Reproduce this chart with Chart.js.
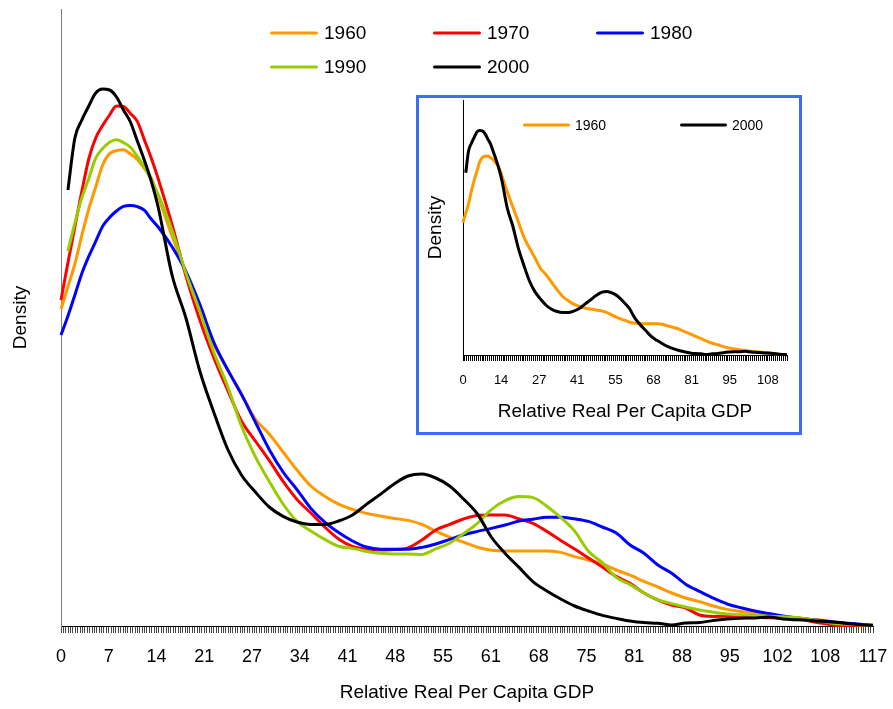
<!DOCTYPE html>
<html>
<head>
<meta charset="utf-8">
<title>Density of Relative Real Per Capita GDP</title>
<script src="https://cdn.jsdelivr.net/npm/chart.js@4.4.1/dist/chart.umd.min.js"></script>
<style>
  html, body { margin: 0; padding: 0; background: #ffffff; }
  #wrap { position: relative; width: 893px; height: 709px; overflow: hidden; }
  #mainChart { position: absolute; left: 0; top: 0; }
  #inset {
    position: absolute; left: 416px; top: 95px;
    width: 380px; height: 334px;
    border: 3px solid #3d6ef2; background: #ffffff;
  }
  #insetChart { position: absolute; left: 0; top: 0; }
</style>
</head>
<body>
<div id="wrap">
  <canvas id="mainChart" width="893" height="709"></canvas>
  <div id="inset"><canvas id="insetChart" width="380" height="334"></canvas></div>
</div>
<script>
// x positions (relative real per capita GDP) shared by all series
const xValues = [
  0, 1, 2, 3, 4, 5, 6, 7, 8, 9, 10, 11, 12, 13, 14,
  16, 18, 20, 22, 24, 26, 28, 30, 32, 34,
  36, 38, 40, 42, 44, 46, 48, 50, 52, 54,
  56, 58, 60, 62, 64, 66, 68, 70, 72, 74,
  76, 78, 80, 82, 84, 86, 88, 90, 92, 94,
  96, 98, 100, 102, 104, 106, 108, 110, 112, 114,
  116, 117,
];

const xTickLabels = ['0', '7', '14', '21', '27', '34', '41', '48', '55', '61',
  '68', '75', '81', '88', '95', '102', '108', '117'];
const insetTickLabels = ['0', '14', '27', '41', '55', '68', '81', '95', '108'];

const years = ['1960', '1970', '1980', '1990', '2000'];
const colors = ['#FF9900', '#FF0000', '#0000FF', '#99CC00', '#000000'];

// density values
const d1960 = [
  15.85, 16.97, 18.1, 19.53, 20.85, 21.95, 23.05, 23.62, 23.77, 23.81, 23.6, 23.33, 22.88, 22.41, 21.48,
  19.5, 17.7, 15.9, 14.1, 12.8, 11.6, 10.35, 9.6, 8.7, 7.8,
  7.0, 6.49, 6.09, 5.83, 5.63, 5.5, 5.38, 5.28, 5.08, 4.74,
  4.44, 4.19, 3.94, 3.79, 3.75, 3.75, 3.75, 3.75, 3.68, 3.47,
  3.3, 3.1, 2.8, 2.54, 2.23, 1.95, 1.65, 1.4, 1.22, 1.0,
  0.83, 0.73, 0.64, 0.52, 0.45, 0.41, 0.33, 0.28, 0.19, 0.11,
  0.05, 0.05,
];
const d1970 = [
  16.3, 18.16, 19.97, 21.73, 23.35, 24.4, 25.03, 25.55, 26.0, 25.98, 25.63, 25.23, 24.32, 23.4, 22.37,
  20.07, 17.5, 15.3, 13.43, 11.8, 10.25, 9.25, 8.28, 7.23, 6.33,
  5.65, 4.95, 4.35, 3.98, 3.85, 3.8, 3.82, 3.91, 4.3, 4.8,
  5.08, 5.35, 5.53, 5.55, 5.55, 5.35, 5.13, 4.73, 4.28, 3.85,
  3.4, 2.95, 2.48, 2.13, 1.65, 1.3, 1.05, 0.9, 0.55, 0.48,
  0.49, 0.47, 0.45, 0.41, 0.4, 0.38, 0.24, 0.12, 0.03, 0.03,
  0.03, 0.03,
];
const d1980 = [
  14.55, 15.5, 16.55, 17.63, 18.48, 19.23, 19.99, 20.43, 20.75, 20.98, 21.03, 20.97, 20.79, 20.35, 19.95,
  18.96, 17.72, 16.08, 14.2, 12.83, 11.58, 10.2, 8.83, 7.7, 6.82,
  5.88, 5.19, 4.67, 4.25, 3.95, 3.84, 3.84, 3.84, 3.93, 4.1,
  4.33, 4.56, 4.73, 4.88, 5.05, 5.25, 5.34, 5.44, 5.44, 5.36,
  5.23, 4.95, 4.65, 4.05, 3.64, 3.05, 2.64, 2.09, 1.73, 1.39,
  1.1, 0.91, 0.75, 0.62, 0.5, 0.4, 0.32, 0.25, 0.18, 0.12,
  0.06, 0.03,
];
const d1990 = [
  null, 18.75, 20.15, 21.41, 22.38, 23.39, 23.87, 24.19, 24.31, 24.17, 23.94, 23.48, 22.95, 22.3, 21.58,
  19.78, 17.64, 15.73, 13.7, 12.0, 10.0, 8.47, 7.23, 6.1, 5.23,
  4.75, 4.33, 3.99, 3.88, 3.73, 3.64, 3.6, 3.6, 3.58, 3.86,
  4.14, 4.62, 5.13, 5.82, 6.27, 6.47, 6.42, 5.99, 5.42, 4.75,
  3.74, 3.17, 2.43, 2.07, 1.65, 1.31, 1.12, 0.95, 0.8, 0.69,
  0.6, 0.56, 0.53, 0.49, 0.46, 0.42, 0.32, 0.21, 0.11, 0.08,
  0.05, 0.05,
];
const d2000 = [
  null, 21.8, 24.4, 25.3, 26.0, 26.65, 26.85, 26.8, 26.45, 25.8, 25.2, 24.25, 23.3, 22.25, 20.95,
  17.55, 15.4, 12.75, 10.7, 8.85, 7.55, 6.7, 5.95, 5.48, 5.2,
  5.08, 5.08, 5.25, 5.55, 6.08, 6.58, 7.1, 7.5, 7.6, 7.4,
  7.0, 6.35, 5.6, 4.45, 3.63, 2.93, 2.22, 1.75, 1.35, 1.0,
  0.75, 0.53, 0.38, 0.25, 0.17, 0.14, 0.05, 0.15, 0.17, 0.28,
  0.35, 0.39, 0.4, 0.45, 0.35, 0.31, 0.28, 0.23, 0.17, 0.1,
  0.05, 0.03,
];

const seriesValues = [d1960, d1970, d1980, d1990, d2000];

Chart.defaults.font.family = 'Arial, "Liberation Sans", sans-serif';
Chart.defaults.color = '#000000';

function makeDataset(i) {
  return {
    label: years[i],
    data: xValues.map((x, k) => ({ x: x, y: seriesValues[i][k] })),
    borderColor: colors[i],
    backgroundColor: colors[i],
    borderWidth: 3,
    pointRadius: 0,
    cubicInterpolationMode: 'monotone',
    borderJoinStyle: 'round',
    clip: 4,
    order: years.length - 1 - i, // later years drawn on top
  };
}

// many small tick marks along the x axis, labels on every 20th one
function denseTicks(count) {
  return function (axis) {
    const ticks = [];
    for (let i = 0; i <= count; i++) {
      ticks.push({ value: (axis.max * i) / count });
    }
    axis.ticks = ticks;
  };
}

// fixed axis box sizes, no extra room for the end labels
function fixHeight(h) {
  return function (axis) {
    axis.height = h;
    axis.paddingLeft = 0;
    axis.paddingRight = 0;
  };
}
function fixWidth(w) {
  return function (axis) {
    axis.width = w;
    axis.paddingTop = 0;
    axis.paddingBottom = 0;
  };
}

// legend drawn as short line + year, in a fixed grid
const lineLegend = {
  id: 'lineLegend',
  afterDraw(chart, args, opts) {
    const ctx = chart.ctx;
    ctx.save();
    ctx.font = opts.font;
    ctx.textBaseline = 'middle';
    ctx.textAlign = 'left';
    chart.data.datasets.forEach((ds, i) => {
      const col = i % opts.perRow;
      const row = Math.floor(i / opts.perRow);
      const x = opts.x + col * opts.colGap;
      const y = opts.y + row * opts.rowGap;
      ctx.strokeStyle = ds.borderColor;
      ctx.lineWidth = 3;
      ctx.lineCap = 'round';
      ctx.beginPath();
      ctx.moveTo(x + 1.5, y);
      ctx.lineTo(x + opts.lineLen - 1.5, y);
      ctx.stroke();
      ctx.fillStyle = '#000000';
      ctx.fillText(ds.label, x + opts.lineLen + opts.textGap, y + 1);
    });
    ctx.restore();
  },
};

new Chart(document.getElementById('mainChart').getContext('2d'), {
  type: 'line',
  data: {
    datasets: years.map((y, i) => makeDataset(i)),
  },
  options: {
    responsive: false,
    animation: false,
    devicePixelRatio: 1,
    layout: { padding: { top: 9, right: 20, left: 0, bottom: 0 } },
    scales: {
      x: {
        type: 'linear',
        min: 0,
        max: 117,
        afterBuildTicks: denseTicks(340),
        afterFit: fixHeight(83),
        ticks: {
          autoSkip: false,
          maxRotation: 0,
          minRotation: 0,
          padding: 13,
          font: { size: 18 },
          callback: (value, index) => (index % 20 === 0 ? xTickLabels[index / 20] : ''),
        },
        grid: {
          display: true,
          drawOnChartArea: false,
          drawTicks: true,
          tickLength: 7,
          color: '#444444',
          lineWidth: 1,
        },
        border: { display: true, color: '#000000', width: 1 },
        title: {
          display: true,
          text: 'Relative Real Per Capita GDP',
          font: { size: 19 },
          padding: { top: 0, bottom: 5 },
        },
      },
      y: {
        min: 0,
        max: 30.85,
        afterFit: fixWidth(61),
        ticks: { display: false },
        grid: { display: false },
        border: { display: true, color: '#808080', width: 1 },
        title: {
          display: true,
          text: 'Density',
          font: { size: 19 },
          padding: { top: 9, bottom: 0 },
        },
      },
    },
    plugins: {
      legend: { display: false },
      tooltip: { enabled: false },
      lineLegend: {
        x: 270, y: 33, perRow: 3, colGap: 163, rowGap: 34,
        lineLen: 48, textGap: 6,
        font: '19px Arial, "Liberation Sans", sans-serif',
      },
    },
  },
  plugins: [lineLegend],
});

// inset: 1960 against 2000
const insetSeries = [0, 4];

new Chart(document.getElementById('insetChart').getContext('2d'), {
  type: 'line',
  data: {
    datasets: insetSeries.map((i) => makeDataset(i)),
  },
  options: {
    responsive: false,
    animation: false,
    devicePixelRatio: 1,
    layout: { padding: { top: 2, right: 12, left: 0, bottom: 0 } },
    scales: {
      x: {
        type: 'linear',
        min: 0,
        max: 117,
        afterBuildTicks: denseTicks(170),
        afterFit: fixHeight(77),
        ticks: {
          autoSkip: false,
          maxRotation: 0,
          minRotation: 0,
          padding: 12,
          font: { size: 13 },
          callback: (value, index) => (index % 20 === 0 ? insetTickLabels[index / 20] : ''),
        },
        grid: {
          display: true,
          drawOnChartArea: false,
          drawTicks: true,
          tickLength: 6,
          color: '#000000',
          lineWidth: 1,
        },
        border: { display: true, color: '#000000', width: 1 },
        title: {
          display: true,
          text: 'Relative Real Per Capita GDP',
          font: { size: 19 },
          padding: { top: 0, bottom: 9 },
        },
      },
      y: {
        min: 0,
        max: 30.5,
        afterFit: fixWidth(44),
        ticks: { display: false },
        grid: { display: false },
        border: { display: true, color: '#000000', width: 1 },
        title: {
          display: true,
          text: 'Density',
          font: { size: 19 },
          padding: { top: 5, bottom: 0 },
        },
      },
    },
    plugins: {
      legend: { display: false },
      tooltip: { enabled: false },
      lineLegend: {
        x: 104, y: 27, perRow: 2, colGap: 157, rowGap: 0,
        lineLen: 47, textGap: 5,
        font: '14px Arial, "Liberation Sans", sans-serif',
      },
    },
  },
  plugins: [lineLegend],
});
</script>
</body>
</html>
